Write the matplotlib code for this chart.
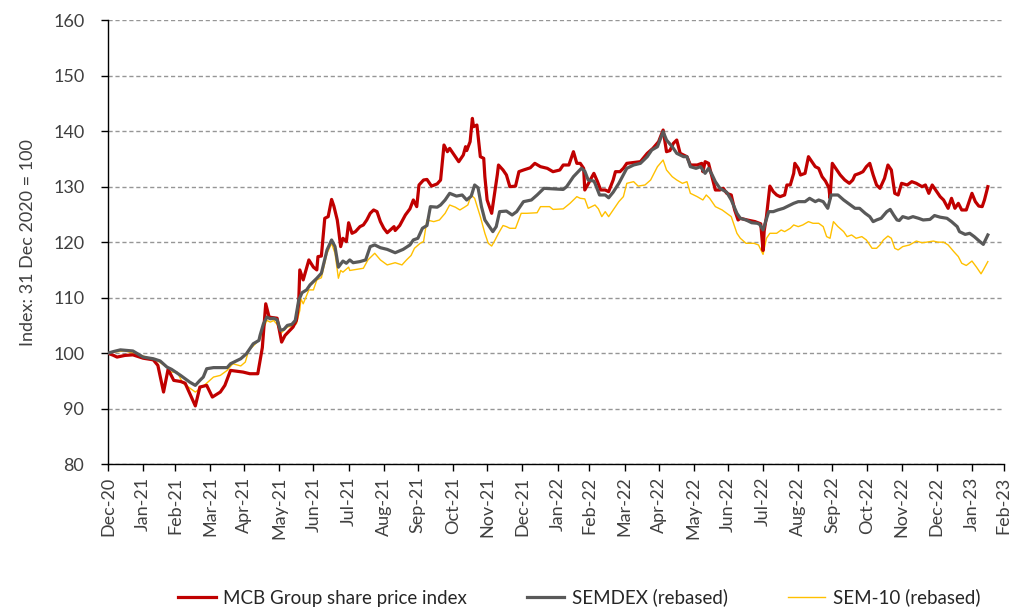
import matplotlib
matplotlib.use("Agg")
import matplotlib.pyplot as plt
import matplotlib.dates as mdates
import pandas as pd

plt.rcParams['font.family'] = ['Lato', 'DejaVu Sans']

# ---------------- data ----------------
mcb_dates = [
    "2020-12-31", "2021-01-05", "2021-01-08", "2021-01-15", "2021-01-22", "2021-01-31",
    "2021-02-09", "2021-02-13", "2021-02-18", "2021-02-22", "2021-02-27",
    "2021-03-05", "2021-03-09", "2021-03-18", "2021-03-22", "2021-03-28",
    "2021-04-02", "2021-04-09", "2021-04-13", "2021-04-18", "2021-04-29",
    "2021-05-05", "2021-05-12", "2021-05-16", "2021-05-19", "2021-05-22", "2021-05-29",
    "2021-06-02", "2021-06-05", "2021-06-12", "2021-06-15", "2021-06-17", "2021-06-18",
    "2021-06-21", "2021-06-26", "2021-06-30",
    "2021-07-03", "2021-07-04", "2021-07-07", "2021-07-10", "2021-07-13", "2021-07-16",
    "2021-07-18", "2021-07-21", "2021-07-22", "2021-07-24", "2021-07-26", "2021-07-29",
    "2021-07-31",
    "2021-08-03", "2021-08-06", "2021-08-10", "2021-08-13", "2021-08-16", "2021-08-19",
    "2021-08-22", "2021-08-25", "2021-08-28", "2021-08-31",
    "2021-09-03", "2021-09-09", "2021-09-10", "2021-09-14", "2021-09-19", "2021-09-23",
    "2021-09-26", "2021-09-29",
    "2021-10-01", "2021-10-05", "2021-10-08", "2021-10-12", "2021-10-17", "2021-10-20",
    "2021-10-23", "2021-10-26", "2021-10-28", "2021-10-31",
    "2021-11-05", "2021-11-09", "2021-11-11", "2021-11-12", "2021-11-15", "2021-11-17",
    "2021-11-18", "2021-11-21", "2021-11-24", "2021-11-27", "2021-11-28", "2021-11-30",
    "2021-12-03", "2021-12-04", "2021-12-07", "2021-12-09", "2021-12-10", "2021-12-14",
    "2021-12-17", "2021-12-20", "2021-12-25", "2021-12-28",
    "2022-01-01", "2022-01-07", "2022-01-11", "2022-01-16", "2022-01-22", "2022-01-27",
    "2022-02-02", "2022-02-05", "2022-02-10", "2022-02-14", "2022-02-17", "2022-02-20",
    "2022-02-23", "2022-02-24", "2022-02-27",
    "2022-03-04", "2022-03-07", "2022-03-10", "2022-03-14", "2022-03-17", "2022-03-21",
    "2022-03-23", "2022-03-27", "2022-03-30",
    "2022-04-02", "2022-04-14", "2022-04-20", "2022-04-25", "2022-04-30",
    "2022-05-04", "2022-05-07", "2022-05-10", "2022-05-13", "2022-05-16", "2022-05-19",
    "2022-05-22", "2022-05-25", "2022-05-28",
    "2022-06-03", "2022-06-07", "2022-06-08", "2022-06-10", "2022-06-13", "2022-06-16",
    "2022-06-19", "2022-06-23", "2022-06-26", "2022-06-29",
    "2022-07-03", "2022-07-06", "2022-07-09", "2022-07-11", "2022-07-17", "2022-07-24",
    "2022-07-29", "2022-07-31",
    "2022-08-01", "2022-08-03", "2022-08-06", "2022-08-09", "2022-08-12", "2022-08-15",
    "2022-08-19", "2022-08-21", "2022-08-24", "2022-08-27", "2022-08-28", "2022-08-31",
    "2022-09-02", "2022-09-06", "2022-09-09", "2022-09-12", "2022-09-15", "2022-09-18",
    "2022-09-21", "2022-09-24", "2022-09-27", "2022-09-28", "2022-09-30",
    "2022-10-03", "2022-10-07", "2022-10-11", "2022-10-15", "2022-10-18", "2022-10-20",
    "2022-10-24", "2022-10-27", "2022-10-30",
    "2022-11-02", "2022-11-05", "2022-11-08", "2022-11-11", "2022-11-15", "2022-11-18",
    "2022-11-21", "2022-11-24", "2022-11-27", "2022-11-30",
    "2022-12-05", "2022-12-09", "2022-12-13", "2022-12-18", "2022-12-21", "2022-12-24",
    "2022-12-27", "2022-12-30",
    "2023-01-03", "2023-01-06", "2023-01-10", "2023-01-13", "2023-01-16", "2023-01-19",
    "2023-01-22", "2023-01-26", "2023-01-31",
    "2023-02-03", "2023-02-06", "2023-02-09", "2023-02-11", "2023-02-14",
]
mcb_values = [
    100.0, 99.6, 99.3, 99.6, 99.7, 99.1,
    98.8, 97.8, 93.0, 97.1, 95.1,
    94.9, 94.6, 90.5, 93.9, 94.2,
    92.1, 93.0, 94.2, 96.9, 96.6,
    96.3, 96.3, 101.0, 108.9, 106.5, 106.3,
    102.0, 103.2, 104.7, 105.9, 108.9, 115.0,
    113.2, 116.8, 115.5,
    115.0, 117.4, 117.5, 124.3, 124.6, 127.7,
    126.5, 124.0, 122.5, 119.2, 120.7, 120.1,
    123.5,
    121.6, 121.9, 122.8, 123.1, 124.0, 125.2,
    125.8, 125.5, 123.7, 122.5,
    121.7, 122.8, 122.1, 123.0, 124.9, 126.0,
    127.6, 126.4,
    130.3, 131.2, 131.3, 130.1, 130.5, 131.2,
    137.5, 136.3, 136.9, 136.0,
    134.5, 135.7, 137.2, 136.5, 138.1, 142.3,
    140.8, 141.1, 135.4, 135.1, 131.8, 127.6,
    125.8, 125.2, 129.4, 132.2, 133.9, 133.0,
    132.1, 130.0, 130.1, 132.7,
    133.0, 133.4, 134.2, 133.6, 133.3, 132.7,
    133.0, 133.9, 133.9, 136.3, 134.2, 134.2,
    133.3, 129.4, 130.5,
    132.4, 131.0, 129.4, 129.4, 129.1, 131.2,
    132.7, 132.7, 133.3,
    134.2, 134.5, 136.0, 136.9, 138.1,
    140.2, 136.3, 136.5, 137.8, 138.4, 136.0,
    135.7, 135.4, 133.9,
    133.9, 134.2, 132.7, 134.5, 134.2, 131.8,
    129.4, 129.4, 129.7, 128.8,
    128.5, 125.8, 124.0, 124.3, 124.0, 123.7,
    123.3, 118.5,
    122.0, 124.6, 130.1, 129.1, 128.5, 128.2,
    128.5, 130.3, 130.3, 132.4, 134.2, 133.3,
    132.1, 132.4, 135.4, 134.5, 133.6, 133.3,
    131.8, 131.0, 129.8, 127.9, 134.2,
    133.3, 132.1, 131.2, 130.6, 131.2, 132.1,
    132.4, 132.7, 133.6,
    134.2, 132.1, 130.3, 129.7, 131.5, 133.9,
    133.0, 128.8, 128.5, 130.6,
    130.3, 130.9, 130.6, 130.0, 130.3, 128.8,
    130.3, 129.4,
    128.2, 127.6, 126.1, 127.9, 126.1, 127.0,
    125.8, 125.8, 128.8,
    127.3, 126.5, 126.4, 127.6, 130.0,
]

semdex_dates = [
    "2020-12-31", "2021-01-05", "2021-01-11", "2021-01-22", "2021-01-31",
    "2021-02-09", "2021-02-15", "2021-02-21", "2021-02-25",
    "2021-03-05", "2021-03-13", "2021-03-18", "2021-03-22", "2021-03-25", "2021-03-28",
    "2021-04-03", "2021-04-15", "2021-04-18", "2021-04-27",
    "2021-05-02", "2021-05-08", "2021-05-13", "2021-05-14", "2021-05-17", "2021-05-20",
    "2021-05-23", "2021-05-26", "2021-05-29",
    "2021-06-01", "2021-06-04", "2021-06-07", "2021-06-11", "2021-06-14", "2021-06-17",
    "2021-06-20", "2021-06-24", "2021-06-27",
    "2021-07-03", "2021-07-07", "2021-07-12", "2021-07-16", "2021-07-19", "2021-07-22",
    "2021-07-26", "2021-07-29",
    "2021-08-01", "2021-08-04", "2021-08-10", "2021-08-15", "2021-08-19", "2021-08-23",
    "2021-08-28",
    "2021-09-03", "2021-09-10", "2021-09-17", "2021-09-23", "2021-09-26", "2021-09-30",
    "2021-10-04", "2021-10-08", "2021-10-11", "2021-10-17", "2021-10-20", "2021-10-24",
    "2021-10-28",
    "2021-11-03", "2021-11-08", "2021-11-12", "2021-11-16", "2021-11-19", "2021-11-22",
    "2021-11-25", "2021-11-28",
    "2021-12-03", "2021-12-05", "2021-12-08", "2021-12-11", "2021-12-17", "2021-12-22",
    "2021-12-26",
    "2022-01-01", "2022-01-08", "2022-01-13", "2022-01-19", "2022-01-27",
    "2022-02-05", "2022-02-08", "2022-02-14", "2022-02-21", "2022-02-24", "2022-02-27",
    "2022-03-04", "2022-03-05", "2022-03-09", "2022-03-14", "2022-03-17", "2022-03-21",
    "2022-03-26",
    "2022-04-02", "2022-04-08", "2022-04-14", "2022-04-20", "2022-04-24", "2022-04-29",
    "2022-05-04", "2022-05-07", "2022-05-12", "2022-05-16", "2022-05-22", "2022-05-25",
    "2022-05-28",
    "2022-06-02", "2022-06-06", "2022-06-10", "2022-06-13", "2022-06-16", "2022-06-19",
    "2022-06-23", "2022-06-29",
    "2022-07-03", "2022-07-08", "2022-07-11", "2022-07-16", "2022-07-21", "2022-07-26",
    "2022-07-28", "2022-07-31",
    "2022-08-02", "2022-08-05", "2022-08-09", "2022-08-13", "2022-08-18", "2022-08-22",
    "2022-08-27", "2022-08-31",
    "2022-09-06", "2022-09-10", "2022-09-15", "2022-09-18", "2022-09-22", "2022-09-26",
    "2022-09-29",
    "2022-10-05", "2022-10-10", "2022-10-16", "2022-10-20", "2022-10-24", "2022-10-29",
    "2022-11-02", "2022-11-05", "2022-11-08", "2022-11-12", "2022-11-17", "2022-11-20",
    "2022-11-23", "2022-11-26", "2022-11-28",
    "2022-12-01", "2022-12-06", "2022-12-10", "2022-12-15", "2022-12-19", "2022-12-25",
    "2022-12-29",
    "2023-01-03", "2023-01-09", "2023-01-13", "2023-01-18", "2023-01-20", "2023-01-25",
    "2023-01-29",
    "2023-02-02", "2023-02-07", "2023-02-10", "2023-02-14",
]
semdex_values = [
    100.0, 100.3, 100.6, 100.4, 99.3,
    99.0, 98.6, 97.5, 97.1,
    96.0, 94.8, 94.2, 95.1, 95.7, 97.2,
    97.4, 97.4, 98.1, 99.0,
    99.9, 101.7, 102.3, 103.2, 105.3, 106.5,
    106.2, 106.3, 106.0,
    104.1, 104.3, 105.0, 105.2, 105.9, 109.5,
    110.9, 111.4, 112.3,
    113.5, 114.4, 118.6, 120.4, 119.2, 115.5,
    116.6, 116.2,
    116.8, 116.3, 116.5, 116.8, 119.2, 119.5,
    119.0,
    118.7, 118.1, 118.7, 119.5, 120.4, 120.7,
    122.5, 123.0, 126.4, 126.3, 126.7, 127.6,
    128.8,
    128.3, 128.5, 127.6, 128.3, 130.3, 129.8,
    126.4, 124.0,
    122.5, 121.9, 122.8, 125.5, 125.6, 124.9,
    125.5,
    127.3, 127.6, 128.5, 129.7, 129.6,
    129.5, 130.0, 131.8, 133.3, 132.8, 131.2,
    131.0, 130.6, 128.5, 128.5, 128.0, 129.0,
    130.6,
    133.3, 133.9, 134.2, 135.4, 136.6, 137.2,
    139.9, 138.4, 137.2, 136.0, 135.4, 135.4,
    133.6,
    133.3, 133.6, 132.4, 133.3, 132.2, 130.9,
    129.7, 129.0,
    127.6, 125.2, 124.3, 124.0, 123.5, 123.4,
    123.2, 122.2,
    123.5, 125.5, 125.5, 125.8, 126.1, 126.5,
    127.0, 127.3,
    127.3, 127.9, 127.3, 127.6, 127.3, 126.1,
    128.5,
    128.5, 127.6, 126.7, 126.1, 126.1, 125.2,
    124.6, 123.7, 124.0, 124.3, 125.5, 125.9,
    124.9, 124.0, 123.9,
    124.6, 124.3, 124.6, 124.3, 124.0, 124.1,
    124.8,
    124.5, 124.3, 123.7, 122.8, 121.9, 121.4,
    121.6,
    121.0, 120.1, 119.6, 121.3,
]

sem10_dates = [
    "2020-12-31", "2021-01-05", "2021-01-15", "2021-01-31",
    "2021-02-12", "2021-02-21", "2021-02-24",
    "2021-03-02", "2021-03-07", "2021-03-18", "2021-03-22", "2021-03-28",
    "2021-04-03", "2021-04-09", "2021-04-15", "2021-04-20", "2021-04-27",
    "2021-05-01", "2021-05-04", "2021-05-10", "2021-05-14", "2021-05-17", "2021-05-20",
    "2021-05-23", "2021-05-26", "2021-05-29",
    "2021-06-01", "2021-06-04", "2021-06-07", "2021-06-11", "2021-06-15", "2021-06-18",
    "2021-06-19", "2021-06-21", "2021-06-26", "2021-06-30",
    "2021-07-03", "2021-07-07", "2021-07-12", "2021-07-16", "2021-07-19", "2021-07-22",
    "2021-07-24", "2021-07-26", "2021-07-31",
    "2021-08-01", "2021-08-07", "2021-08-13", "2021-08-17", "2021-08-23", "2021-08-28",
    "2021-09-03", "2021-09-10", "2021-09-16", "2021-09-20", "2021-09-24", "2021-09-27",
    "2021-10-02", "2021-10-05", "2021-10-08", "2021-10-14", "2021-10-19", "2021-10-24",
    "2021-10-28",
    "2021-11-02", "2021-11-06", "2021-11-10", "2021-11-13", "2021-11-16", "2021-11-19",
    "2021-11-24", "2021-11-28",
    "2021-12-01", "2021-12-04", "2021-12-07", "2021-12-10", "2021-12-14", "2021-12-17",
    "2021-12-20", "2021-12-25", "2021-12-30",
    "2022-01-04", "2022-01-13", "2022-01-16", "2022-01-24", "2022-01-27",
    "2022-02-05", "2022-02-11", "2022-02-17", "2022-02-20", "2022-02-24", "2022-02-27",
    "2022-03-05", "2022-03-08", "2022-03-11", "2022-03-14", "2022-03-17", "2022-03-21",
    "2022-03-26", "2022-03-30",
    "2022-04-02", "2022-04-08", "2022-04-12", "2022-04-18", "2022-04-23", "2022-04-29",
    "2022-05-04", "2022-05-07", "2022-05-12", "2022-05-16", "2022-05-21", "2022-05-25",
    "2022-05-28",
    "2022-06-03", "2022-06-08", "2022-06-11", "2022-06-14", "2022-06-19", "2022-06-25",
    "2022-06-29",
    "2022-07-03", "2022-07-08", "2022-07-11", "2022-07-16", "2022-07-23", "2022-07-27",
    "2022-07-31",
    "2022-08-03", "2022-08-06", "2022-08-12", "2022-08-16", "2022-08-19", "2022-08-24",
    "2022-08-27", "2022-08-31",
    "2022-09-04", "2022-09-09", "2022-09-13", "2022-09-18", "2022-09-22", "2022-09-25",
    "2022-09-28",
    "2022-10-01", "2022-10-05", "2022-10-10", "2022-10-13", "2022-10-17", "2022-10-21",
    "2022-10-26", "2022-10-30",
    "2022-11-04", "2022-11-08", "2022-11-11", "2022-11-14", "2022-11-18", "2022-11-21",
    "2022-11-24", "2022-11-27",
    "2022-12-01", "2022-12-07", "2022-12-13", "2022-12-18", "2022-12-22", "2022-12-28",
    "2023-01-01", "2023-01-06", "2023-01-10", "2023-01-15", "2023-01-19", "2023-01-22",
    "2023-01-26", "2023-01-31",
    "2023-02-04", "2023-02-08", "2023-02-10", "2023-02-14",
]
sem10_values = [
    100.0, 100.2, 100.4, 99.5,
    98.7, 97.5, 96.6,
    96.6, 94.6, 93.0, 93.6, 94.6,
    95.7, 96.0, 96.9, 98.1, 97.7,
    98.4, 100.5, 101.7, 102.6, 104.5, 105.9,
    105.6, 105.9, 105.2,
    103.5, 104.1, 104.7, 104.9, 105.3, 107.7,
    109.8, 108.9, 111.4, 111.4,
    113.2, 113.6, 118.0, 119.8, 118.0, 113.5,
    114.9, 114.6, 115.5,
    114.9, 115.1, 115.3, 116.8, 118.0, 116.8,
    115.9, 116.3, 115.9, 116.8, 117.6, 118.9,
    119.8, 120.1, 124.0, 123.7, 124.0, 125.2,
    126.7,
    126.3, 125.8, 126.3, 126.7, 128.5, 127.9,
    124.6, 121.6,
    119.8, 119.3, 120.4, 121.6, 123.0, 122.8,
    122.5, 122.5, 125.2,
    125.2, 125.3, 126.4, 126.4, 125.9,
    126.0, 127.0, 128.2, 127.9, 127.8, 126.1,
    126.7, 126.0, 124.6, 125.5, 124.6, 125.8,
    127.3, 128.2,
    130.6, 130.9, 130.1, 130.3, 131.2, 133.6,
    134.8, 133.0, 131.8, 131.2, 130.6, 130.9,
    128.8,
    128.2, 127.6, 128.5, 127.9, 126.4, 125.8,
    125.2,
    124.6, 121.6, 120.7, 119.8, 119.8, 119.5,
    117.8,
    120.7, 121.6, 121.6, 122.2, 121.9, 122.5,
    123.1, 122.8,
    123.1, 123.7, 123.4, 123.4, 122.8, 121.0,
    120.7,
    123.7, 122.8, 121.9, 121.0, 121.3, 120.7,
    121.0, 120.4,
    118.9, 118.9, 119.5, 120.4, 121.1, 120.7,
    118.9, 118.6,
    119.2, 119.5, 120.2, 119.9, 120.0, 120.2,
    120.0, 120.0, 119.5, 118.3, 117.4, 116.2,
    115.8, 116.6,
    115.5, 114.3, 115.0, 116.5,
]

y_ticks = [80, 90, 100, 110, 120, 130, 140, 150, 160]

# ---------------- plot ----------------
fig = plt.figure(figsize=(10.18, 6.10), dpi=100)
ax = fig.add_axes([0.106, 0.239, 0.880, 0.728])

ax.plot(pd.to_datetime(mcb_dates), mcb_values, color='#C00000', linewidth=2.3,
        label='MCB Group share price index', zorder=3)
ax.plot(pd.to_datetime(semdex_dates), semdex_values, color='#595959', linewidth=2.3,
        label='SEMDEX (rebased)', zorder=4)
ax.plot(pd.to_datetime(sem10_dates), sem10_values, color='#FFC000', linewidth=1.0,
        label='SEM-10 (rebased)', zorder=2)

ax.set_ylim(80, 160)
ax.set_yticks(y_ticks)
ax.set_xlim(pd.Timestamp('2020-12-31'), pd.Timestamp('2023-02-28'))

month_ticks = pd.date_range('2020-12-31', '2023-02-28', freq='ME')
ax.set_xticks(month_ticks)
ax.xaxis.set_major_formatter(mdates.DateFormatter('%b-%y'))
plt.setp(ax.get_xticklabels(), rotation=90)

ax.yaxis.grid(True, linestyle=(0, (3, 2)), color='#969696', linewidth=1.0)
ax.set_axisbelow(True)

for side in ['top', 'right']:
    ax.spines[side].set_visible(False)
for side in ['left', 'bottom']:
    ax.spines[side].set_color('black')
    ax.spines[side].set_linewidth(1.0)

ax.tick_params(axis='both', colors='black', labelcolor='#404040', labelsize=13,
               length=5, width=1, direction='out')
ax.tick_params(axis='y', pad=12)
ax.tick_params(axis='x', pad=4)

ax.set_ylabel('Index: 31 Dec 2020 = 100', fontsize=13, color='#404040', labelpad=12)

fig.legend(loc='lower center', bbox_to_anchor=(0.569, -0.022), ncol=3, frameon=False,
           fontsize=13.5, handlelength=2.0, columnspacing=3.2, handletextpad=0.4,
           labelcolor='#262626')

fig.savefig('out.png', dpi=100)
